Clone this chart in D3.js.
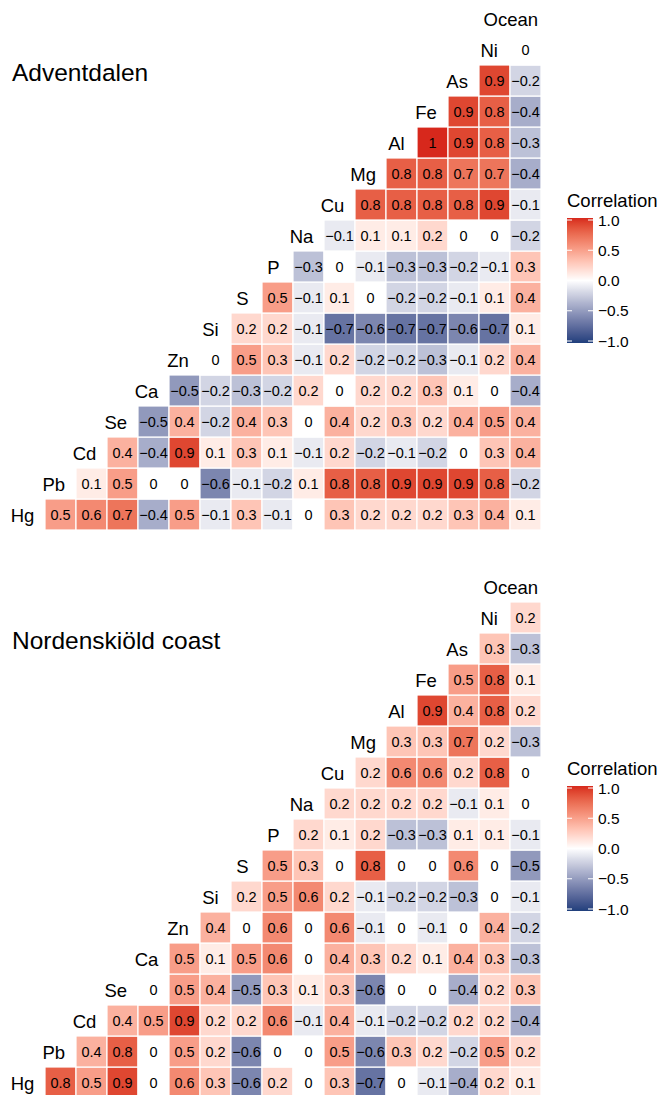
<!DOCTYPE html>
<html>
<head>
<meta charset="utf-8">
<script src="https://cdn.jsdelivr.net/npm/d3@7"></script>
<style>
  html, body { margin: 0; padding: 0; background: #fff; }
  svg { display: block; }
  text { font-family: "Liberation Sans", Arial, sans-serif; }
</style>
</head>
<body>
<svg id="chart" width="664" height="1095"></svg>
<script>
// ---- data ----
const variables = ["Hg","Pb","Cd","Se","Ca","Zn","Si","S","P","Na","Cu","Mg","Al","Fe","As","Ni","Ocean"];

// each row: correlations of the row variable with every variable after it
const adventdalen = [
  [0.5, 0.6, 0.7, -0.4, 0.5, -0.1, 0.3, -0.1, 0, 0.3, 0.2, 0.2, 0.2, 0.3, 0.4, 0.1], // Hg
  [0.1, 0.5, 0, 0, -0.6, -0.1, -0.2, 0.1, 0.8, 0.8, 0.9, 0.9, 0.9, 0.8, -0.2],       // Pb
  [0.4, -0.4, 0.9, 0.1, 0.3, 0.1, -0.1, 0.2, -0.2, -0.1, -0.2, 0, 0.3, 0.4],         // Cd
  [-0.5, 0.4, -0.2, 0.4, 0.3, 0, 0.4, 0.2, 0.3, 0.2, 0.4, 0.5, 0.4],                 // Se
  [-0.5, -0.2, -0.3, -0.2, 0.2, 0, 0.2, 0.2, 0.3, 0.1, 0, -0.4],                     // Ca
  [0, 0.5, 0.3, -0.1, 0.2, -0.2, -0.2, -0.3, -0.1, 0.2, 0.4],                        // Zn
  [0.2, 0.2, -0.1, -0.7, -0.6, -0.7, -0.7, -0.6, -0.7, 0.1],                         // Si
  [0.5, -0.1, 0.1, 0, -0.2, -0.2, -0.1, 0.1, 0.4],                                   // S
  [-0.3, 0, -0.1, -0.3, -0.3, -0.2, -0.1, 0.3],                                      // P
  [-0.1, 0.1, 0.1, 0.2, 0, 0, -0.2],                                                 // Na
  [0.8, 0.8, 0.8, 0.8, 0.9, -0.1],                                                   // Cu
  [0.8, 0.8, 0.7, 0.7, -0.4],                                                        // Mg
  [1, 0.9, 0.8, -0.3],                                                               // Al
  [0.9, 0.8, -0.4],                                                                  // Fe
  [0.9, -0.2],                                                                       // As
  [0]                                                                                // Ni
];

const nordenskiold = [
  [0.8, 0.5, 0.9, 0, 0.6, 0.3, -0.6, 0.2, 0, 0.3, -0.7, 0, -0.1, -0.4, 0.2, 0.1],    // Hg
  [0.4, 0.8, 0, 0.5, 0.2, -0.6, 0, 0, 0.5, -0.6, 0.3, 0.2, -0.2, 0.5, 0.2],          // Pb
  [0.4, 0.5, 0.9, 0.2, 0.2, 0.6, -0.1, 0.4, -0.1, -0.2, -0.2, 0.2, 0.2, -0.4],       // Cd
  [0, 0.5, 0.4, -0.5, 0.3, 0.1, 0.3, -0.6, 0, 0, -0.4, 0.2, 0.3],                    // Se
  [0.5, 0.1, 0.5, 0.6, 0, 0.4, 0.3, 0.2, 0.1, 0.4, 0.3, -0.3],                       // Ca
  [0.4, 0, 0.6, 0, 0.6, -0.1, 0, -0.1, 0, 0.4, -0.2],                                // Zn
  [0.2, 0.5, 0.6, 0.2, -0.1, -0.2, -0.2, -0.3, 0, -0.1],                             // Si
  [0.5, 0.3, 0, 0.8, 0, 0, 0.6, 0, -0.5],                                            // S
  [0.2, 0.1, 0.2, -0.3, -0.3, 0.1, 0.1, -0.1],                                       // P
  [0.2, 0.2, 0.2, 0.2, -0.1, 0.1, 0],                                                // Na
  [0.2, 0.6, 0.6, 0.2, 0.8, 0],                                                      // Cu
  [0.3, 0.3, 0.7, 0.2, -0.3],                                                        // Mg
  [0.9, 0.4, 0.8, 0.2],                                                              // Al
  [0.5, 0.8, 0.1],                                                                   // Fe
  [0.3, -0.3],                                                                       // As
  [0.2]                                                                              // Ni
];

const panelTitles = ["Adventdalen", "Nordenskiöld coast"];
const legendTitle = "Correlation";
const legendTicks = [1.0, 0.5, 0.0, -0.5, -1.0];

// ---- drawing ----
const svg = d3.select("#chart");
const color = d3.scaleLinear()
  .domain([-1, 0, 1])
  .range(["#1f3f7c", "#ffffff", "#d7281c"])
  .interpolate(d3.interpolateLab);

const fmt = v => v === 0 ? "0" : (v < 0 ? "\u2212" : "") + String(Math.abs(v));

// gradient for legend
const defs = svg.append("defs");
const grad = defs.append("linearGradient").attr("id", "corrGrad")
  .attr("x1", 0).attr("x2", 0).attr("y1", 0).attr("y2", 1);
d3.range(0, 1.0001, 0.02).forEach(t => {
  grad.append("stop").attr("offset", t).attr("stop-color", color(1 - 2 * t));
});

function drawPanel(data, title, offsetY) {
  const g = svg.append("g").attr("transform", `translate(0,${offsetY})`);
  const x = d3.scaleBand().domain(variables).range([14, 541]);
  const y = d3.scaleBand().domain(variables.slice().reverse()).range([3, 530]);

  const cells = [];
  data.forEach((row, i) => {
    row.forEach((v, k) => {
      cells.push({ r: variables[i], c: variables[i + 1 + k], v });
    });
  });

  g.selectAll("rect.cell").data(cells).join("rect")
    .attr("class", "cell")
    .attr("x", d => x(d.c))
    .attr("y", d => y(d.r))
    .attr("width", x.bandwidth())
    .attr("height", y.bandwidth())
    .attr("fill", d => color(d.v))
    .attr("stroke", "#fff")
    .attr("stroke-width", 1.2);

  g.selectAll("text.val").data(cells).join("text")
    .attr("class", "val")
    .attr("x", d => x(d.c) + x.bandwidth() / 2)
    .attr("y", d => y(d.r) + y.bandwidth() / 2)
    .attr("text-anchor", "middle")
    .attr("dominant-baseline", "central")
    .attr("font-size", 14.5)
    .attr("fill", "#000")
    .text(d => fmt(d.v));

  // diagonal labels
  g.selectAll("text.lab").data(variables).join("text")
    .attr("class", "lab")
    .attr("y", d => y(d) + y.bandwidth() / 2 + 1)
    .attr("dominant-baseline", "central")
    .attr("font-size", 18.5)
    .attr("fill", "#000")
    .text(d => d)
    .attr("x", function (d) {
      const w = this.getComputedTextLength();
      return x(d) + x.bandwidth() / 2 - 1 - 0.75 * w;
    });

  // title
  g.append("text")
    .attr("x", 12).attr("y", 72)
    .attr("dominant-baseline", "central")
    .attr("font-size", 24.5)
    .attr("fill", "#000")
    .text(title);

  // legend
  const ly = d3.scaleLinear().domain([-1, 1]).range([341, 220]);
  const lg = g.append("g");
  lg.append("text").attr("x", 567).attr("y", 200)
    .attr("dominant-baseline", "central")
    .attr("font-size", 18.5).text(legendTitle);
  lg.append("rect").attr("x", 567).attr("y", ly(1) - 2).attr("width", 26)
    .attr("height", ly(-1) - ly(1) + 4).attr("fill", "url(#corrGrad)");
  legendTicks.forEach(t => {
    lg.append("line").attr("x1", 567).attr("x2", 572)
      .attr("y1", ly(t)).attr("y2", ly(t)).attr("stroke", "#fff").attr("stroke-width", 1);
    lg.append("line").attr("x1", 588).attr("x2", 593)
      .attr("y1", ly(t)).attr("y2", ly(t)).attr("stroke", "#fff").attr("stroke-width", 1);
  });
  lg.selectAll("text.tick").data(legendTicks).join("text")
    .attr("class", "tick")
    .attr("x", 598).attr("y", d => ly(d))
    .attr("dominant-baseline", "central")
    .attr("font-size", 15.5)
    .text(d => (d < 0 ? "\u2212" : "") + Math.abs(d).toFixed(1));
}

drawPanel(adventdalen, panelTitles[0], 0);
drawPanel(nordenskiold, panelTitles[1], 568);
</script>
</body>
</html>
